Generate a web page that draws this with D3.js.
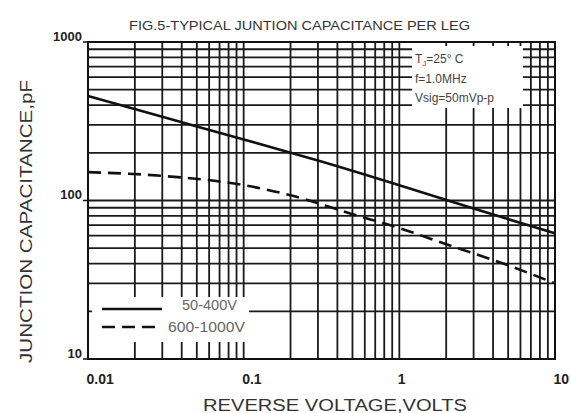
<!DOCTYPE html>
<html lang="en">
<head>
<meta charset="utf-8">
<style>
  body { margin: 0; background: #fff; }
  svg { display: block; font-family: "Liberation Sans", Arial, sans-serif; }
  .grid line { stroke: #1a1a1a; stroke-width: 1.8; }
  .axis path, .axis line { display: none; }
</style>
</head>
<body>
<svg width="571" height="413"></svg>
<script src="https://d3js.org/d3.v7.min.js"></script>
<script>
// axis ticks and labels
var xLabelValues = [0.01, 0.1, 1, 10];
var xLabels = ["0.01", "0.1", "1", "10"];
var yLabelValues = [1000, 100, 10];
var yLabels = ["1000", "100", "10"];

// 50-400V curve (solid)
var voltsLow = [0.01, 0.03, 0.1, 0.3, 1, 3, 10];
var capLow = [456, 337, 243, 179, 125, 89, 62];

// 600-1000V curve (dashed)
var voltsHigh = [0.01, 0.03, 0.1, 0.2, 0.5, 1, 2, 5, 10];
var capHigh = [151, 143, 125, 108, 82, 67, 53, 39, 30];

var seriesNames = ["50-400V", "600-1000V"];
var noteLines = ["f=1.0MHz", "Vsig=50mVp-p"];

var svg = d3.select("svg");
// note: "top" is taken by window.top, so use own names
var plotL = 88, plotR = 555, plotT = 42, plotB = 359;

var x = d3.scaleLog().domain([0.01, 10]).range([plotL, plotR]);
var y = d3.scaleLog().domain([10, 1000]).range([plotB, plotT]);

// grid
var grid = svg.append("g").attr("class", "grid");
grid.selectAll(".vx")
    .data(x.ticks())
    .enter().append("line")
    .attr("x1", function(d) { return x(d); })
    .attr("x2", function(d) { return x(d); })
    .attr("y1", plotT).attr("y2", plotB);
grid.selectAll(".hy")
    .data(y.ticks())
    .enter().append("line")
    .attr("x1", plotL).attr("x2", plotR)
    .attr("y1", function(d) { return y(d); })
    .attr("y2", function(d) { return y(d); });

// white boxes for legend and conditions
svg.append("rect").attr("x", 92).attr("y", 297).attr("width", 157).attr("height", 45).attr("fill", "#fff");
svg.append("rect").attr("x", 412).attr("y", 46).attr("width", 111).attr("height", 62).attr("fill", "#fff");

// curves
var line = d3.line()
    .x(function(d) { return x(d[0]); })
    .y(function(d) { return y(d[1]); })
    .curve(d3.curveMonotoneX);

svg.append("path")
    .datum(d3.zip(voltsLow, capLow))
    .attr("d", line)
    .attr("fill", "none")
    .attr("stroke", "#111")
    .attr("stroke-width", 2.6);

svg.append("path")
    .datum(d3.zip(voltsHigh, capHigh))
    .attr("d", line)
    .attr("fill", "none")
    .attr("stroke", "#111")
    .attr("stroke-width", 2.6)
    .attr("stroke-dasharray", "13,7");

// frame
svg.append("rect")
    .attr("x", plotL).attr("y", plotT)
    .attr("width", plotR - plotL).attr("height", plotB - plotT)
    .attr("fill", "none").attr("stroke", "#111").attr("stroke-width", 2);

// small ticks left of frame
svg.selectAll(".ytick")
    .data(yLabelValues)
    .enter().append("line")
    .attr("x1", plotL - 5).attr("x2", plotL)
    .attr("y1", function(d) { return y(d); })
    .attr("y2", function(d) { return y(d); })
    .attr("stroke", "#111").attr("stroke-width", 1.5);

// axes (labels only)
var xAxis = svg.append("g")
    .attr("class", "axis")
    .attr("transform", "translate(0," + plotB + ")")
    .call(d3.axisBottom(x).tickValues(xLabelValues)
        .tickFormat(function(d, i) { return xLabels[i]; }).tickSize(0));
xAxis.selectAll("text")
    .attr("text-anchor", "start")
    .attr("dx", -2)
    .attr("dy", 0)
    .attr("y", 25)
    .attr("fill", "#222")
    .style("font-size", "14px")
    .style("font-weight", "bold")
    .style("font-family", "Liberation Sans, Arial, sans-serif");

var yAxis = svg.append("g")
    .attr("class", "axis")
    .attr("transform", "translate(" + plotL + ",0)")
    .call(d3.axisLeft(y).tickValues(yLabelValues)
        .tickFormat(function(d, i) { return yLabels[i]; }).tickSize(0));
yAxis.selectAll("text")
    .attr("x", -6)
    .attr("dy", -2)
    .attr("fill", "#222")
    .style("font-size", "13px")
    .style("font-weight", "bold")
    .style("font-family", "Liberation Sans, Arial, sans-serif");

// titles
svg.append("text")
    .attr("x", 129).attr("y", 30)
    .attr("textLength", 341).attr("lengthAdjust", "spacingAndGlyphs")
    .attr("font-size", 13).attr("fill", "#333")
    .text("FIG.5-TYPICAL JUNTION CAPACITANCE PER LEG");

svg.append("text")
    .attr("x", 203).attr("y", 411)
    .attr("textLength", 264).attr("lengthAdjust", "spacingAndGlyphs")
    .attr("font-size", 16).attr("fill", "#333")
    .text("REVERSE VOLTAGE,VOLTS");

svg.append("text")
    .attr("transform", "translate(32,363) rotate(-90)")
    .attr("textLength", 283).attr("lengthAdjust", "spacingAndGlyphs")
    .attr("font-size", 17).attr("fill", "#333")
    .text("JUNCTION CAPACITANCE,pF");

// legend
svg.append("line")
    .attr("x1", 102).attr("x2", 162).attr("y1", 309).attr("y2", 309)
    .attr("stroke", "#111").attr("stroke-width", 2.6);
svg.append("line")
    .attr("x1", 102).attr("x2", 162).attr("y1", 327).attr("y2", 327)
    .attr("stroke", "#111").attr("stroke-width", 2.6)
    .attr("stroke-dasharray", "13,7");
svg.append("text")
    .attr("x", 182).attr("y", 310)
    .attr("textLength", 55).attr("lengthAdjust", "spacingAndGlyphs")
    .attr("font-size", 14).attr("fill", "#666")
    .text(seriesNames[0]);
svg.append("text")
    .attr("x", 168).attr("y", 332)
    .attr("textLength", 77).attr("lengthAdjust", "spacingAndGlyphs")
    .attr("font-size", 14).attr("fill", "#666")
    .text(seriesNames[1]);

// test conditions
var note = svg.append("text")
    .attr("x", 415).attr("y", 63)
    .attr("font-size", 12).attr("fill", "#444");
note.append("tspan").text("T");
note.append("tspan").attr("font-size", 8).attr("dy", 3).text("J");
note.append("tspan").attr("dy", -3).text("=25° C");

svg.selectAll(".note")
    .data(noteLines)
    .enter().append("text")
    .attr("x", 415)
    .attr("y", function(d, i) { return 83 + i * 19; })
    .attr("font-size", 12).attr("fill", "#444")
    .text(function(d) { return d; });
</script>
</body>
</html>
